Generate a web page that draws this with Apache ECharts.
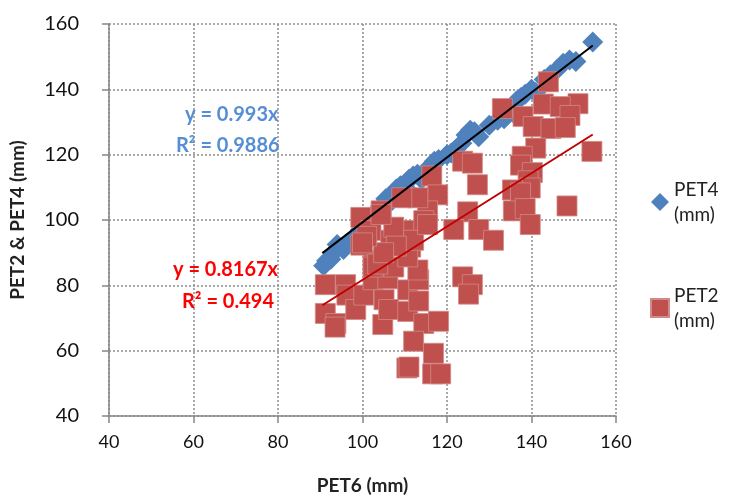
<!DOCTYPE html>
<html>
<head>
<meta charset="utf-8">
<script src="https://cdn.jsdelivr.net/npm/echarts@6/dist/echarts.min.js"></script>
<style>
  html, body { margin: 0; padding: 0; background: #fff; }
  #chart { width: 744px; height: 500px; }
</style>
</head>
<body>
<div id="chart"></div>
<script>
// PET4 vs PET6 (blue diamonds)
var pet4 = [
  [90.8, 86], [91.5, 87.5], [92.5, 88], [93.5, 90.5], [94, 92.5], [95.5, 91], [96, 92.5],
  [97, 93.5], [98.5, 95], [99.5, 97], [100, 100], [101, 98.5], [102, 100.5], [102.5, 101.5],
  [103.5, 103], [104.5, 104], [105.5, 106.5], [106.5, 107], [107, 106], [107.5, 108], [108, 109.5],
  [109, 110.5], [110, 111], [110.5, 109.5], [111, 112.5], [112, 113.5], [113, 114], [114, 112.5],
  [115, 114.5], [116, 116.5], [117, 118], [118, 118.5], [120, 120], [121, 120.5], [122, 121.5],
  [123.5, 123.5], [124.5, 126], [125.5, 127.5], [126.5, 127], [127.5, 125.5], [130, 129],
  [132, 130.5], [133.5, 131], [135.5, 133], [136.5, 136.5], [137.5, 137.5], [138.5, 138.5],
  [140, 140], [141, 139], [143, 143], [144.5, 144.5], [146, 146], [147.5, 148], [149, 149],
  [150.5, 148.5], [154.5, 154.5]
]

// PET2 vs PET6 (red squares)
var pet2 = [
  [91.2, 80.2], [96, 80.2], [96.3, 77], [91.2, 71.4], [93.7, 68.3], [93.5, 67.2], [98.4, 72.6],
  [100.3, 77], [102.5, 81.7], [102.5, 87.7], [106, 82], [105.1, 75.6], [104.8, 68], [106.2, 72.6],
  [110.7, 78.6], [110.7, 72], [113.3, 81.7], [113.3, 75.2], [114.5, 68.3], [118, 69],
  [112.1, 62.9], [116.8, 59.2], [110.5, 54.7], [111, 55], [116.6, 52.9], [118.5, 52.9],
  [123.7, 82.6], [126, 80.2], [125.1, 77.3], [133.1, 134.1], [138, 131.7], [142.8, 135.5],
  [144, 142.3], [151, 135.6], [146.8, 134.7], [149.1, 132], [140.4, 128.6], [144.6, 128],
  [148, 128.3], [141, 122], [137.8, 119.5], [137.4, 116.8], [140.2, 114.5], [139.2, 112],
  [139.7, 109.8], [135.5, 109.2], [137.4, 108.3], [135.7, 102.8], [138.5, 103.5], [139.7, 98.6],
  [148.4, 104.3], [154.3, 121], [123.7, 118], [126, 117.4], [127.2, 110.8], [124.9, 102.5],
  [121.6, 97.1], [127.5, 97.1], [131, 93.8], [116.4, 113.5], [117.8, 107.7], [115.4, 102.8],
  [113.1, 106.8], [109.3, 106.8], [104.4, 102.8], [99.6, 100.8], [102, 96.8], [99.6, 92.3],
  [106.7, 93.8], [110.7, 96.8], [111.4, 91.7], [114.5, 99.8], [102.5, 85.6], [107.4, 85.6],
  [113.1, 84.7], [103.6, 86.5], [110.7, 88.7], [107.4, 97.8], [112.1, 93.8], [115.4, 98.6],
  [104.4, 101.7], [108, 92], [105, 90], [101, 95], [100, 93]
]

// trendlines (through origin)
var trendX = [90.5, 154.5]
var slope4 = 0.993
var slope2 = 0.8167

var names = ['PET4 (mm)', 'PET2 (mm)']
var axisTicks = { min: 40, max: 160, interval: 20 }

var chart = echarts.init(document.getElementById('chart'))

var font = 'Lato, "Open Sans", sans-serif'

var option = {
  animation: false,
  textStyle: { fontFamily: font },
  grid: { left: 107, right: 128, top: 24, bottom: 79 },
  legend: {
    data: [
      { name: names[0], icon: 'diamond' },
      { name: names[1], icon: 'rect' }
    ],
    orient: 'vertical',
    left: 645,
    top: 172,
    itemWidth: 18,
    itemHeight: 18,
    itemGap: 56,
    formatter: function (n) { return n.replace(' ', '\n') },
    textStyle: { fontSize: 19, color: '#222', lineHeight: 25, fontFamily: font }
  },
  xAxis: {
    type: 'value',
    min: axisTicks.min,
    max: axisTicks.max,
    interval: axisTicks.interval,
    name: 'PET6 (mm)',
    nameLocation: 'middle',
    nameGap: 60,
    nameTextStyle: { fontSize: 19, fontWeight: 'bold', color: '#222' },
    axisLine: { lineStyle: { color: '#868686', width: 1.5 } },
    axisTick: { show: true, length: 7, lineStyle: { color: '#868686', width: 1.5 } },
    axisLabel: { fontSize: 18, color: '#111', margin: 17 },
    splitLine: { show: true, lineStyle: { color: '#8c8c8c', type: [2, 2], width: 1.5 } }
  },
  yAxis: {
    type: 'value',
    min: axisTicks.min,
    max: axisTicks.max,
    interval: axisTicks.interval,
    name: 'PET2 & PET4 (mm)',
    nameLocation: 'middle',
    nameGap: 82,
    nameTextStyle: { fontSize: 19, fontWeight: 'bold', color: '#222' },
    axisLine: { show: true, lineStyle: { color: '#868686', width: 1.5 } },
    axisTick: { show: true, length: 7, lineStyle: { color: '#868686', width: 1.5 } },
    axisLabel: { fontSize: 20, color: '#111', margin: 30 },
    splitLine: { show: true, lineStyle: { color: '#8c8c8c', type: [2, 2], width: 1.5 } }
  },
  series: [
    {
      name: names[0],
      type: 'scatter',
      symbol: 'diamond',
      symbolSize: 21,
      itemStyle: { color: '#4f81bd', opacity: 1 },
      data: pet4,
      z: 2
    },
    {
      name: names[1],
      type: 'scatter',
      symbol: 'rect',
      symbolSize: 20,
      itemStyle: { color: '#c0504d', borderColor: '#d08a88', borderWidth: 0.8, opacity: 1 },
      data: pet2,
      z: 3
    },
    {
      name: 'trend4',
      type: 'line',
      symbol: 'none',
      lineStyle: { color: '#000', width: 2 },
      data: trendX.map(function (x) { return [x, slope4 * x] }),
      z: 4
    },
    {
      name: 'trend2',
      type: 'line',
      symbol: 'none',
      lineStyle: { color: '#c00000', width: 2 },
      data: trendX.map(function (x) { return [x, slope2 * x] }),
      z: 4
    }
  ],
  graphic: [
    { type: 'text', left: 185, top: 105, style: { text: 'y = 0.993x', font: 'bold 20px ' + font, fill: '#558ed5' } },
    { type: 'text', left: 176, top: 136, style: { text: 'R² = 0.9886', font: 'bold 20px ' + font, fill: '#558ed5' } },
    { type: 'text', left: 173, top: 260, style: { text: 'y = 0.8167x', font: 'bold 20px ' + font, fill: '#ff0000' } },
    { type: 'text', left: 182, top: 292, style: { text: 'R² = 0.494', font: 'bold 20px ' + font, fill: '#ff0000' } }
  ]
}

chart.setOption(option)
</script>
</body>
</html>
